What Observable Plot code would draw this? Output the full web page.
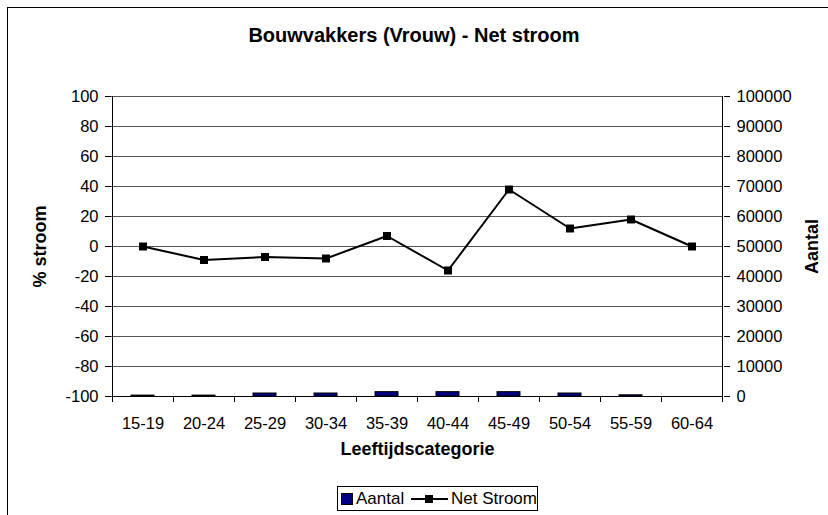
<!DOCTYPE html>
<html><head><meta charset="utf-8">
<script src="https://cdn.jsdelivr.net/npm/d3@7"></script>
<script src="https://cdn.jsdelivr.net/npm/@observablehq/plot@0.6"></script>
<style>
body{margin:0;background:#fff;}
#wrap{position:relative;width:828px;height:515px;overflow:hidden;font-family:"Liberation Sans",Arial,sans-serif;color:#000;}
#border{position:absolute;left:7px;top:7px;width:900px;height:600px;border-left:1px solid #000;border-top:1px solid #000;}
#title{position:absolute;left:0;width:828px;top:24px;text-align:center;font-weight:bold;font-size:20px;line-height:23px;}
#legend{position:absolute;left:337px;top:486px;width:201px;height:25px;border:1px solid #000;font-size:17px;display:flex;align-items:center;box-sizing:border-box;padding-left:3px;white-space:nowrap;}
#legend .sw{display:inline-block;width:10px;height:10px;background:#000080;border:1px solid #000;margin-right:3px;}
#legend .ln{display:inline-block;position:relative;width:37px;height:11px;margin:0 3px 0 7px;}
#legend .ln:before{content:"";position:absolute;left:0;right:0;top:5px;border-top:2px solid #000;}
#legend .ln:after{content:"";position:absolute;left:14px;top:2px;width:8px;height:8px;background:#000;}
#plot{position:absolute;left:0;top:0;}
</style></head><body>
<div id="wrap"><div id="border"></div><div id="plot"></div>
<div id="title">Bouwvakkers (Vrouw) - Net stroom</div>
<div id="legend"><span class="sw"></span>Aantal<span class="ln"></span>Net Stroom</div>
</div>
<script>
const categories = ["15-19","20-24","25-29","30-34","35-39","40-44","45-49","50-54","55-59","60-64"];
const netStroom = [0, -9, -7, -8, 7, -16, 38, 12, 18, 0];
const aantal = [300, 300, 1000, 1000, 1450, 1450, 1450, 1000, 400, 0];
const leftTicks = [-100,-80,-60,-40,-20,0,20,40,60,80,100];
const rightTickLabels = ["0","10000","20000","30000","40000","50000","60000","70000","80000","90000","100000"];
const rightMax = 100000;

const rows = categories.map((c, i) => ({cat: c, net: netStroom[i], aantal: aantal[i]}));
const toLeft = a => -100 + a / rightMax * 200;

const chart = Plot.plot({
  width: 828, height: 515,
  marginLeft: 111, marginRight: 105, marginTop: 96, marginBottom: 119,
  style: {fontFamily: '"Liberation Sans", Arial, sans-serif', fontSize: "16.5px", background: "transparent", overflow: "visible"},
  x: {domain: categories, padding: 0, label: null},
  y: {domain: [-100, 100], label: null},
  marks: [
    Plot.ruleY(leftTicks, {stroke: "#555", strokeWidth: 1}),
    Plot.barY(rows, {x: "cat", y1: -100, y2: d => toLeft(d.aantal), fill: "#000080", stroke: "#000", strokeWidth: 1, insetLeft: 19, insetRight: 19}),
    Plot.axisY({anchor: "left", ticks: leftTicks, tickSize: 6, tickPadding: 7, label: null, stroke: "#000", fontSize: 16.5,
      tickFormat: d => String(d)}),
    Plot.axisY({anchor: "right", ticks: leftTicks, tickSize: 6, tickPadding: 7, label: null, stroke: "#000", fontSize: 16.5,
      tickFormat: d => rightTickLabels[leftTicks.indexOf(d)]}),
    Plot.axisX({anchor: "bottom", tickSize: 0, tickPadding: 21, label: null, fontSize: 16.5}),
    Plot.line(rows, {x: "cat", y: "net", stroke: "#000", strokeWidth: 2}),
    Plot.dot(rows, {x: "cat", y: "net", symbol: "square", fill: "#000", stroke: "none", r: 4.5}),
    Plot.text(["Leeftijdscategorie"], {frameAnchor: "bottom", textAnchor: "middle", dy: 58, text: d => d, fontWeight: "bold", fontSize: 18}),
    Plot.text(["% stroom"], {frameAnchor: "left", textAnchor: "middle", dx: -71, rotate: -90, text: d => d, fontWeight: "bold", fontSize: 18}),
    Plot.text(["Aantal"], {frameAnchor: "right", textAnchor: "middle", dx: 89, rotate: -90, text: d => d, fontWeight: "bold", fontSize: 18})
  ]
});

// axis lines and category boundary ticks via the plot's scales
const sx = chart.scale("x"), sy = chart.scale("y");
const svg = d3.select(chart);
const x0 = sx.apply(categories[0]);
const bw = sx.bandwidth;
const xEnd = sx.apply(categories[categories.length - 1]) + bw;
const yTop = sy.apply(100), yBot = sy.apply(-100);
const g = svg.append("g").attr("stroke", "#000").attr("stroke-width", 1).attr("shape-rendering", "crispEdges");
g.append("line").attr("x1", x0).attr("x2", x0).attr("y1", yTop).attr("y2", yBot);
g.append("line").attr("x1", xEnd).attr("x2", xEnd).attr("y1", yTop).attr("y2", yBot);
g.append("line").attr("x1", x0).attr("x2", xEnd).attr("y1", yBot).attr("y2", yBot);
categories.concat([null]).forEach((c) => {
  const xx = c === null ? xEnd : sx.apply(c);
  g.append("line").attr("x1", xx).attr("x2", xx).attr("y1", yBot).attr("y2", yBot + 6);
});
document.getElementById("plot").appendChild(chart);
</script>
</body></html>
